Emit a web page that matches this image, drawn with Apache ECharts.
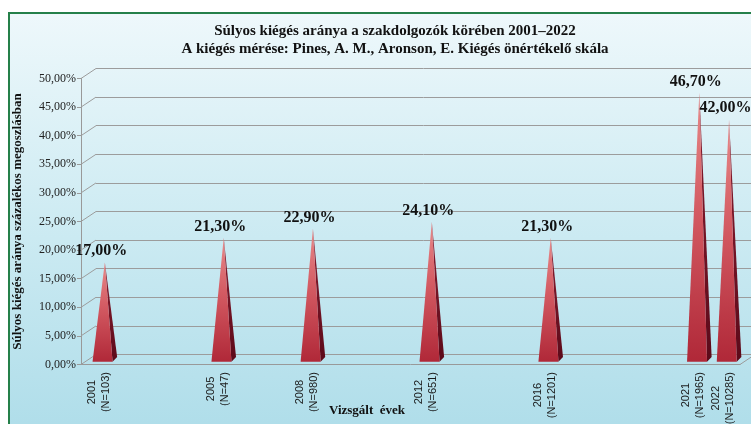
<!DOCTYPE html>
<html>
<head>
<meta charset="utf-8">
<script src="https://cdn.jsdelivr.net/npm/echarts@6/dist/echarts.min.js"></script>
<style>html,body{margin:0;padding:0;background:#fff}#c{width:751px;height:424px}</style>
</head>
<body>
<div id="c"></div>
<script>
// ---- data ----
const years = [2001, 2005, 2008, 2012, 2016, 2021, 2022];
const sampleSizes = ['(N=103)', '(N=47)', '(N=980)', '(N=651)', '(N=1201)', '(N=1965)', '(N=10285)'];
const burnoutRates = [17.0, 21.3, 22.9, 24.1, 21.3, 46.7, 42.0];
const yTickValues = [0, 5, 10, 15, 20, 25, 30, 35, 40, 45, 50];
const titleLines = ['Súlyos kiégés aránya a szakdolgozók körében 2001–2022',
  'A kiégés mérése: Pines, A. M., Aronson, E. Kiégés önértékelő skála'];
const yAxisName = 'Súlyos kiégés aránya százalékos megoszlásban';
const xAxisName = 'Vizsgált  évek';

const fmtPct = v => v.toFixed(2).replace('.', ',') + '%';
const SERIF = '"Liberation Serif","Times New Roman",serif';
const SANS = '"Liberation Sans",Arial,sans-serif';
const DX = 15, DY = -10; // depth offset front->back

const mctx = document.createElement('canvas').getContext('2d');
mctx.font = '11px ' + SANS;
const textW = s => mctx.measureText(s).width;

const chart = echarts.init(document.getElementById('c'), null, {renderer: 'canvas'});

const option = {
  backgroundColor: '#ffffff',
  animation: false,
  graphic: [{
    type: 'rect', z: -100, silent: true,
    shape: {x: 9, y: 13, width: 800, height: 500},
    style: {
      fill: new echarts.graphic.LinearGradient(0, 0, 0, 1, [
        {offset: 0, color: '#eef8fb'},
        {offset: 0.45, color: '#cbeaf2'},
        {offset: 1, color: '#a3d8e6'}
      ]),
      stroke: '#25804a', lineWidth: 2
    }
  }, {
    type: 'text', z: 10, silent: true, x: 367, y: 411,
    style: {text: xAxisName, font: 'bold 13px ' + SERIF, fill: '#111', align: 'center', verticalAlign: 'middle'}
  }],
  title: {
    text: titleLines.join('\n'),
    left: 390, top: 17, textAlign: 'center',
    textStyle: {fontFamily: SERIF, fontWeight: 'bold', fontSize: 15, lineHeight: 18, color: '#111'}
  },
  grid: [
    {left: 81, right: 11, top: 78.5, bottom: 59.5},   // front plane
    {left: 88.5, right: 5, top: 73.5, bottom: 64.5},  // mid plane (pyramids)
    {left: 96, right: 0, top: 68.5, bottom: 69.5}     // back wall
  ],
  xAxis: [
    {gridIndex: 0, type: 'value', min: 0, max: 1,
      axisLine: {show: true, lineStyle: {color: '#999'}}, axisTick: {show: false},
      axisLabel: {show: false}, splitLine: {show: false}},
    {gridIndex: 1, type: 'value', min: 2000.45, max: 2022.57, show: false},
    {gridIndex: 2, type: 'value', min: 0, max: 1, show: false}
  ],
  yAxis: [
    {gridIndex: 0, type: 'value', min: 0, max: 50, interval: 5,
      axisLine: {show: true, lineStyle: {color: '#999'}},
      axisTick: {show: true, length: 4, lineStyle: {color: '#999'}},
      axisLabel: {formatter: fmtPct, fontFamily: SERIF, fontSize: 12, color: '#222', margin: 5},
      splitLine: {show: false},
      name: yAxisName, nameLocation: 'middle', nameRotate: 90, nameGap: 57,
      nameTextStyle: {fontFamily: SERIF, fontWeight: 'bold', fontSize: 13, color: '#111'}},
    {gridIndex: 1, type: 'value', min: 0, max: 50, interval: 5, show: false},
    {gridIndex: 2, type: 'value', min: 0, max: 50, interval: 5,
      axisLine: {show: false}, axisTick: {show: false}, axisLabel: {show: false},
      splitLine: {show: true, lineStyle: {color: '#9c9c9c', width: 1}}}
  ],
  series: [
    { // slanted depth lines at each tick, plus floor right edge
      type: 'custom', xAxisIndex: 0, yAxisIndex: 0, z: 2, silent: true,
      data: yTickValues.map(v => [0, v]),
      renderItem: function (params, api) {
        const v = api.value(1);
        const p = api.coord([0, v]);
        const children = [{type: 'line', shape: {x1: p[0], y1: p[1], x2: p[0] + DX, y2: p[1] + DY},
          style: {stroke: '#9c9c9c', lineWidth: 1}}];
        if (v === 0) {
          const q = api.coord([1, 0]);
          children.push({type: 'line', shape: {x1: q[0], y1: q[1], x2: q[0] + DX, y2: q[1] + DY},
            style: {stroke: '#9c9c9c', lineWidth: 1}});
        }
        return {type: 'group', children: children};
      }
    },
    { // pyramids
      type: 'custom', xAxisIndex: 1, yAxisIndex: 1, z: 5, silent: true,
      data: years.map((y, i) => [y, burnoutRates[i], i]),
      renderItem: function (params, api) {
        const yr = api.value(0), val = api.value(1), idx = api.value(2);
        const a = api.coord([yr, val]);
        const b = api.coord([yr, 0]);
        const FL = [b[0] - 12.3, b[1] + 2.2], FR = [b[0] + 7.7, b[1] + 2.2], BR = [b[0] + 12.3, b[1] - 2.5];
        const lbl = years[idx] + '\n' + sampleSizes[idx];
        const maxW = Math.max(textW(String(years[idx])), textW(sampleSizes[idx]));
        return {type: 'group', children: [
          {type: 'polygon', shape: {points: [FR, BR, a]},
            style: {fill: new echarts.graphic.LinearGradient(0, 0, 0, 1, [
              {offset: 0, color: '#8a1e30'}, {offset: 1, color: '#5c0a1a'}])}},
          {type: 'polygon', shape: {points: [FL, FR, a]},
            style: {fill: new echarts.graphic.LinearGradient(0, 0, 0, 1, [
              {offset: 0, color: '#e88a8a'}, {offset: 0.45, color: '#d35a62'}, {offset: 1, color: '#b02838'}])}},
          {type: 'text', x: a[0] - 3.5, y: a[1] - 11,
            style: {text: fmtPct(val), font: 'bold 16px ' + SERIF, fill: '#111', align: 'center', verticalAlign: 'middle'}},
          {type: 'text', x: b[0] - 6, y: 372 + maxW / 2, rotation: Math.PI / 2,
            style: {text: lbl, font: '11px ' + SANS, fill: '#1a1a1a', align: 'center', verticalAlign: 'middle', lineHeight: 14}}
        ]};
      }
    }
  ]
};
chart.setOption(option);
</script>
</body>
</html>
